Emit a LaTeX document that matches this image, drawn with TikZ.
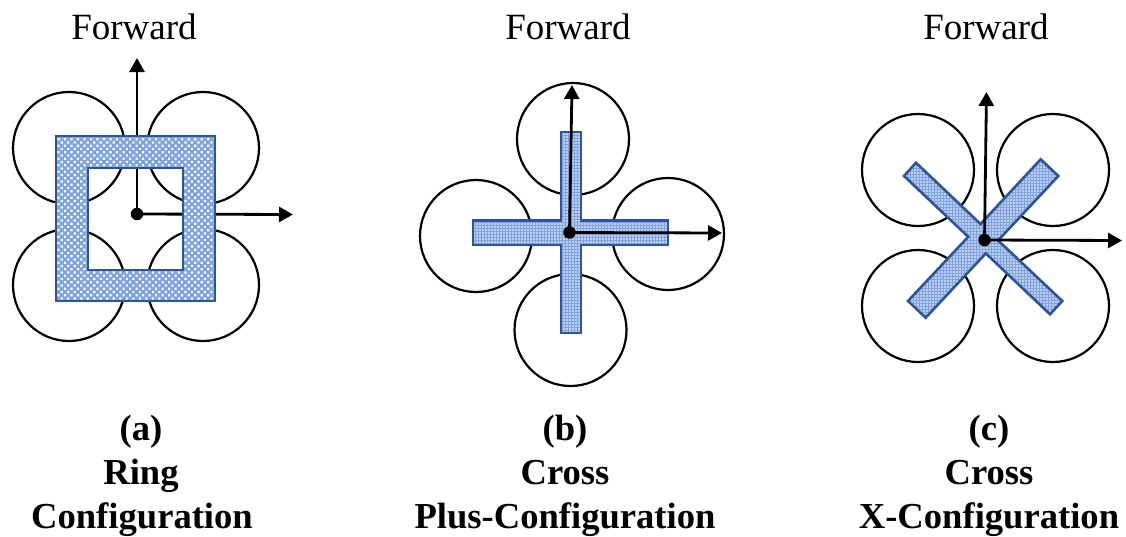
\documentclass[tikz,border=0pt]{standalone}
\usepackage{fontspec}
\setmainfont{Liberation Serif}
\usetikzlibrary{arrows.meta,patterns.meta}
\definecolor{framecol}{HTML}{2F5597}
\definecolor{basecol}{HTML}{7FA3E0}
\tikzset{
  rotor/.style={draw=black,line width=2.2pt,circle,minimum size=112pt,inner sep=0pt,outer sep=0pt},
  axisline/.style={draw=black,line width=2.8pt,-{Triangle[width=15pt,length=14pt]}},
  hub/.style={circle,fill=black,minimum size=12.5pt,inner sep=0pt},
  coarsefill/.style={pattern={Dots[radius=1.55pt,distance=4.6pt,angle=45]},pattern color=white,draw=framecol,line width=2.6pt},
  finefill/.style={preaction={fill=basecol},pattern={Dots[radius=.9pt,distance=3pt,angle=0]},pattern color=white,draw=framecol,line width=2.6pt},
  fwdtext/.style={font=\fontsize{37}{37}\selectfont,anchor=base},
  captext/.style={font=\fontsize{36.6}{36.6}\selectfont\bfseries,anchor=base}
}
\begin{document}
\begin{tikzpicture}[x=1pt,y=-1pt]
\useasboundingbox (0,0) rectangle (1126,536);
\fill[white] (0,0) rectangle (1126,536);
% Panel a
\node[rotor] (a1) at (69,148) {};
\node[rotor] (a2) at (203,148) {};
\node[rotor] (a3) at (69,285) {};
\node[rotor] (a4) at (203,285) {};
\node[hub] (ah) at (137,214) {};
\coordinate (au) at (137,58);
\coordinate (ar) at (293,214.5);
\draw[axisline] (ah.center) -- (au);
\draw[axisline] (ah.center) -- (ar);
\fill[basecol,even odd rule] (56,136) rectangle (215,301) (88,168) rectangle (183,270);
\path[coarsefill,even odd rule] (56,136) rectangle (215,301) (88,168) rectangle (183,270);
\node[fwdtext] (af) at (134,39) {Forward};
\node[captext] (at1) at (141,440.5) {(a)};
\node[captext] (at2) at (141,484) {Ring};
\node[captext] (at3) at (142,528) {Configuration};
% Panel b
\node[rotor] (b1) at (573,139) {};
\node[rotor] (b2) at (476,236) {};
\node[rotor] (b3) at (668,234) {};
\node[rotor] (b4) at (570.5,330) {};
\path[finefill] (561,132) -- (581,132) -- (581,220.5) -- (668,220.5) -- (668,245) -- (581,245) -- (581,333) -- (561,333) -- (561,245) -- (473,245) -- (473,220.5) -- (561,220.5) -- cycle;
\node[hub] (bh) at (569.5,232.5) {};
\coordinate (bu) at (572,85);
\coordinate (br) at (722,233);
\draw[axisline] (bh.center) -- (bu);
\draw[axisline] (bh.center) -- (br);
\node[fwdtext] (bf) at (568,39) {Forward};
\node[captext] (bt1) at (565,440.5) {(b)};
\node[captext] (bt2) at (565,484) {Cross};
\node[captext] (bt3) at (565,528) {Plus-Configuration};
% Panel c
\node[rotor] (c1) at (918,170) {};
\node[rotor] (c2) at (1053,170) {};
\node[rotor] (c3) at (918,306) {};
\node[rotor] (c4) at (1053,306) {};
\path[finefill] (916,162.7) -- (980.5,224) -- (1040.7,159.3) -- (1058.3,176) -- (998.1,240.4) -- (1062.3,301) -- (1050,314.3) -- (985.8,253.4) -- (925.7,317.7) -- (908,301) -- (968.2,236.8) -- (904,176) -- cycle;
\node[hub] (ch) at (984.5,240) {};
\coordinate (cu) at (986.5,92);
\coordinate (cr) at (1122,240.5);
\draw[axisline] (ch.center) -- (cu);
\draw[axisline] (ch.center) -- (cr);
\node[fwdtext] (cf) at (986,39) {Forward};
\node[captext] (ct1) at (989,440.5) {(c)};
\node[captext] (ct2) at (989,484) {Cross};
\node[captext] (ct3) at (989,528) {X-Configuration};
\end{tikzpicture}
\end{document}
